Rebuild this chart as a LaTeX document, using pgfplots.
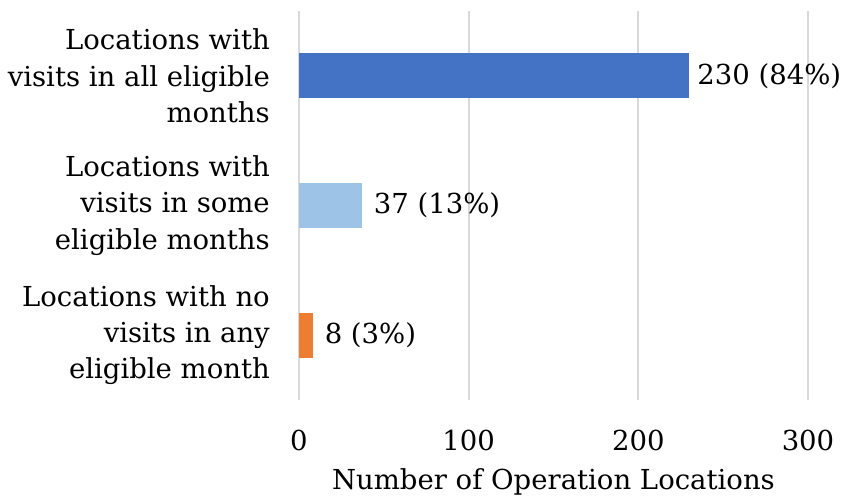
\documentclass[border=0pt]{standalone}
\usepackage{fontspec}
\setmainfont{DejaVu Serif}
\usepackage{pgfplots}
\pgfplotsset{compat=1.18}
\definecolor{cblue}{HTML}{4472C4}
\definecolor{clblue}{HTML}{9DC3E6}
\definecolor{corange}{HTML}{ED7D31}
\definecolor{cgrid}{HTML}{D9D9D9}
\newcommand{\cf}{\fontsize{27.6}{36.5}\selectfont}
\begin{document}
\begin{tikzpicture}
\useasboundingbox (-299bp,-98bp) rectangle (548bp,400bp);
\begin{axis}[
  at={(0,0)}, anchor=south west,
  scale only axis, width=509bp, height=389bp,
  xmin=0, xmax=300, ymin=-0.5, ymax=2.5,
  xbar, bar width=45bp, bar shift=0pt,
  axis line style={draw=none}, major tick length=0pt,
  xmajorgrids, grid style={cgrid, line width=1.7bp},
  xtick={0,100,200,300},
  ytick={0,1,2},
  yticklabels={{Locations with no\\visits in any\\eligible month},{Locations with\\visits in some\\eligible months},{Locations with\\visits in all eligible\\months}},
  yticklabel style={align=right, font=\cf, inner sep=0pt, anchor=east, xshift=-29bp},
  xticklabel style={font=\cf, inner sep=0pt, anchor=center, yshift=-40bp},
  xlabel={Number of Operation Locations},
  xlabel style={font=\cf, inner sep=0pt, anchor=center, at={(axis description cs:0.5,0)}, yshift=-82bp},
  /pgf/number format/assume math mode=true,
  nodes near coords, point meta=explicit symbolic,
  nodes near coords style={anchor=west, font=\cf, inner sep=0pt, xshift=12bp, text=black},
]
\addplot[fill=cblue, draw=none, nodes near coords style={xshift=-4bp}] coordinates {(230,2) [230 (84\%)]};
\addplot[fill=clblue, draw=none] coordinates {(37,1) [37 (13\%)]};
\addplot[fill=corange, draw=none] coordinates {(8,0) [8 (3\%)]};
\end{axis}
\end{tikzpicture}
\end{document}
